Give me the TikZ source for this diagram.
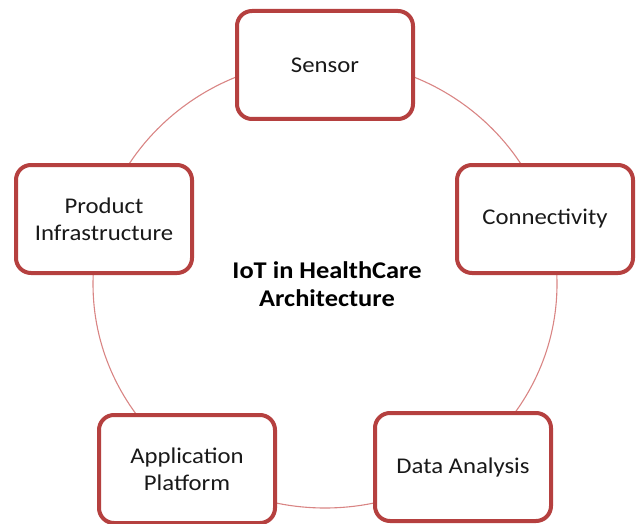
\documentclass[tikz,border=0pt]{standalone}
\usepackage{fontspec}
\setmainfont{Carlito}[FakeStretch=1.1]
\begin{document}
\begin{tikzpicture}[x=1pt,y=1pt,
  boxstyle/.style={draw=boxred, line width=4pt, rounded corners=15pt, fill=white,
    minimum width=176pt, minimum height=108pt, align=center,
    font=\fontsize{22.5}{27}\selectfont, text=black!90},
  ringstyle/.style={draw=ringred, line width=1.1pt}]
\definecolor{boxred}{HTML}{B5403F}
\definecolor{ringred}{HTML}{D98584}
\useasboundingbox (0,0) rectangle (636,523);
\coordinate (c) at (325,239);
\draw[ringstyle] (c) ellipse [x radius=232pt, y radius=224pt];
\node[boxstyle] (sensor) at (325,458) {Sensor};
\node[boxstyle] (conn) at (545,304) {Connectivity};
\node[boxstyle] (prod) at (104,304) {Product\\Infrastructure};
\node[boxstyle] (app) at (187,54) {Application\\Platform};
\node[boxstyle] (data) at (463,56) {Data Analysis};
\node[font=\bfseries\fontsize{24}{28}\selectfont, align=center] (title) at (327,239) {IoT in HealthCare\\Architecture};
\end{tikzpicture}
\end{document}
